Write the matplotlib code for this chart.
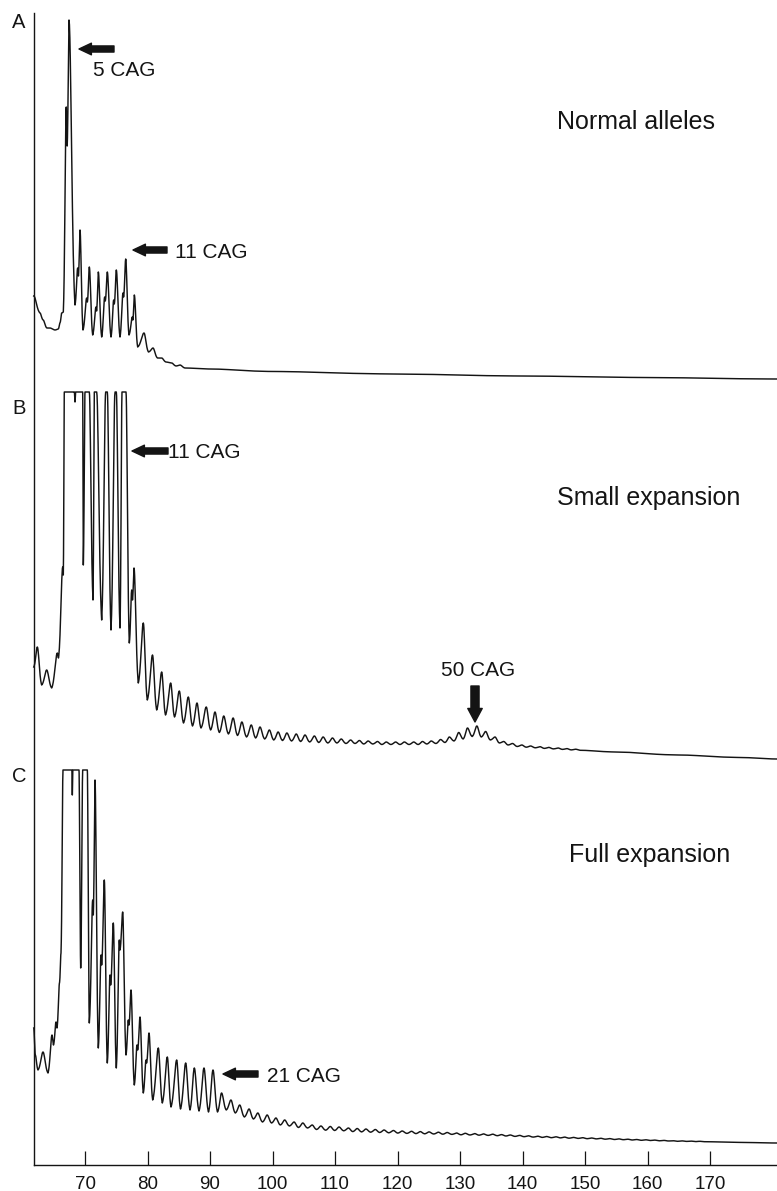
import numpy as np
import matplotlib
matplotlib.use("Agg")
import matplotlib.pyplot as plt
from matplotlib.patches import FancyArrowPatch

plt.rcParams['font.family'] = ['Liberation Sans', 'DejaVu Sans']

# ---------------- data ----------------
tick_values = [70, 80, 90, 100, 110, 120, 130, 140, 150, 160, 170]

# repeat ladder (peak positions of the CAG repeat stutter ladder, tail part)
ladder = [89.4, 90.8, 92.2, 93.7, 95.1, 96.6, 98.0, 99.5, 100.9, 102.3,
          103.8, 105.2, 106.7, 108.1, 109.6, 111.0, 112.5, 113.9, 115.3, 116.8,
          118.2, 119.7, 121.1, 122.6, 124.0, 125.4, 126.9, 128.3, 129.8, 131.2,
          132.7, 134.1, 135.6, 137.0, 138.4, 139.9, 141.3, 142.8, 144.2, 145.7,
          147.1, 148.5, 150.0, 151.4, 152.9, 154.3, 155.8, 157.2, 158.6, 160.1,
          161.5, 163.0, 164.4, 165.9, 167.3, 168.7, 170.2, 171.6, 173.1, 174.5,
          176.0, 177.4, 178.8, 180.3]

# Panel A - normal alleles (extrema of the trace)
a_x = [61.8, 62.8, 63.3, 63.9, 64.4, 65.2, 65.73, 66.0, 66.27, 66.53,
       67.0, 67.15, 67.44, 68.4, 68.83, 68.95, 69.2, 69.68, 70.27, 70.38,
       70.69, 71.23, 71.76, 71.86, 72.13, 72.67, 73.15, 73.25, 73.57, 74.16,
       74.59, 74.69, 75.01, 75.6, 76.08, 76.18, 76.51, 77.04, 77.57, 77.66,
       77.89, 78.43, 79.44, 80.16, 80.88, 81.6, 82.27, 82.96, 83.87, 84.56,
       85.2, 86.0, 90.0, 100.0, 120.0, 140.0, 160.0, 180.7]
a_y = [80, 63, 56, 48, 48, 46, 47, 53, 63, 64,
       269, 230, 356, 71, 108, 100, 146, 46, 78, 74,
       109, 41, 69, 65, 104, 39, 79, 75, 104, 39,
       76, 72, 106, 39, 83, 79, 117, 41, 59, 56,
       81, 29, 43, 24, 28, 18, 18, 14, 13, 10,
       11, 8, 7, 4.5, 2, 0, -1.5, -3]

# Panel B - small expansion (head extrema, then ladder tail)
b_x = [61.8, 62.37, 63.07, 63.87, 64.67, 65.57, 65.76, 66.43, 66.53, 66.69,
       68.3, 68.4, 68.5, 69.63, 69.73, 70.0, 70.69, 71.28, 71.49, 71.87,
       72.67, 73.31, 73.57, 74.16, 74.8, 75.01, 75.6, 75.92, 76.56, 77.09,
       77.47, 77.6, 77.84, 78.53, 79.33, 79.97, 80.8, 81.47, 82.27, 82.88,
       83.71, 84.32, 85.09, 85.76, 86.53, 87.2, 87.92, 88.56]
b_y = [85, 105, 67, 82, 64, 99, 94, 185, 177, 360,
       360, 350, 360, 360, 187, 360, 360, 152, 360, 360,
       132, 360, 360, 122, 360, 360, 124, 360, 360, 109,
       162, 152, 184, 69, 129, 52, 97, 42, 80, 37,
       69, 35, 61, 29, 55, 26, 49, 24]
b_tail_top = [45, 40, 36, 34, 30, 27, 25, 22, 20, 19,
              18, 17, 16, 15, 14, 13, 12, 11.5, 11, 10.5,
              10, 10, 10, 10, 10.5, 11, 12.5, 15, 19.5, 24,
              26, 20.5, 15, 10.5, 8.5, 7, 6, 5.3, 4.6, 4,
              3.4, 2.8]
b_tail_valley = [22, 19.5, 18, 16.5, 15, 14, 13, 12, 11.5, 11,
                 10.5, 10, 9.5, 9, 9, 8.5, 8.5, 8, 8, 7.5,
                 7.5, 7.5, 7.5, 7.5, 8, 8.5, 9.5, 11, 13, 15.5,
                 15, 12, 9, 7, 5.5, 4.8, 4.2, 3.6, 3.1, 2.6,
                 2.1, 1.7]
b_end_x = [155.0, 165.0, 175.0, 180.7]
b_end_y = [0, -3, -5.5, -7]

# Panel C - full expansion
c_x = [61.8, 62.05, 62.48, 63.28, 64.08, 64.72, 64.96, 65.36, 65.52, 65.92,
       66.16, 66.48, 67.9, 67.97, 68.05, 69.04, 69.31, 69.63, 70.37, 70.69,
       71.23, 71.33, 71.6, 72.13, 72.56, 72.67, 73.09, 73.57, 74.0, 74.11,
       74.53, 75.01, 75.49, 75.6, 76.03, 76.56, 76.93, 77.04, 77.36, 77.89,
       78.32, 78.43, 78.8, 79.33, 79.76, 79.86, 80.24, 80.83, 81.73, 82.37,
       83.17, 83.76, 84.67, 85.28, 86.11, 86.8, 87.49, 88.24, 89.04, 89.76,
       90.48, 91.2]
c_y = [115, 88, 73, 91, 70, 108, 98, 121, 115, 160,
       190, 373, 373, 348, 373, 373, 175, 373, 373, 120,
       243, 228, 363, 95, 188, 178, 263, 80, 168, 158,
       220, 75, 203, 193, 231, 88, 123, 118, 153, 58,
       98, 93, 126, 50, 83, 80, 110, 43, 95, 40,
       86, 36, 83, 34, 80, 33, 75, 32, 75, 31,
       73, 31]
c_tail_top = [50, 43, 38, 34, 30, 28, 25, 23, 21, 20,
              18, 17, 16.5, 16, 15, 14.5, 14, 13.5, 13, 12.5,
              12, 11.7, 11.4, 11.1, 10.8, 10.5, 10, 9.7, 9.4, 9.1,
              8.8, 8.4, 8, 7.6, 7.2, 6.8, 6.5, 6.2, 5.9, 5.6,
              5.3, 5, 4.7, 4.4, 4.1, 3.8, 3.5, 3.2, 2.9, 2.6,
              2.3, 2.1, 1.9, 1.7]
c_tail_valley = [33, 30, 26, 24, 21, 20, 18, 17, 15.5, 15,
                 13.5, 12.8, 12.5, 12.2, 11.4, 11.1, 10.8, 10.5, 10.2, 9.9,
                 9.6, 9.4, 9.2, 9.0, 8.8, 8.6, 8.2, 8.0, 7.8, 7.6,
                 7.3, 7.0, 6.6, 6.3, 5.9, 5.6, 5.3, 5.1, 4.8, 4.6,
                 4.3, 4.1, 3.8, 3.5, 3.3, 3.0, 2.7, 2.5, 2.2, 2.0,
                 1.7, 1.6, 1.4, 1.3]
c_end_x = [175.0, 180.7]
c_end_y = [0.6, 0]

panel_letters = ["A", "B", "C"]
panel_titles = ["Normal alleles", "Small expansion", "Full expansion"]

# ---------------- layout helpers ----------------
W, H, DPI = 777, 1191, 100
AX_LEFT, AX_TOP, AX_BOTTOM = 34, 13, 1165


def px_x(p):
    return 70 + (p - 85) / 6.25


def px_y(p):
    return AX_BOTTOM - p


OFF_A, OFF_B, OFF_C = px_y(376), px_y(752), px_y(1143)
C_SHIFT = -0.35


def with_tail(hx, hy, top, valley, j0, shift, ex, ey):
    xs, ys = list(hx), list(hy)
    for i, (t, v) in enumerate(zip(top, valley)):
        j = j0 + i
        xs.append(ladder[j] + shift)
        ys.append(t)
        xs.append((ladder[j] + ladder[j + 1]) / 2 + shift)
        ys.append(v)
    return xs + list(ex), ys + list(ey)


def smooth_trace(xs, ys, k=3.0, m=14):
    f = lambda u: (np.exp(-k * u * u) - np.exp(-k)) / (1 - np.exp(-k))
    X, Y = [], []
    for x0, y0, x1, y1 in zip(xs[:-1], ys[:-1], xs[1:], ys[1:]):
        t = np.linspace(0, 1, m, endpoint=False)
        if y0 == y1:
            y = np.full(m, float(y0))
        elif y0 > y1:
            y = y1 + (y0 - y1) * f(t)
        else:
            y = y0 + (y1 - y0) * f(1 - t)
        X.append(x0 + (x1 - x0) * t)
        Y.append(y)
    X.append([xs[-1]])
    Y.append([ys[-1]])
    return np.concatenate(X), np.concatenate(Y)


fig = plt.figure(figsize=(W / DPI, H / DPI), dpi=DPI)
ax = fig.add_axes([AX_LEFT / W, (H - AX_BOTTOM) / H, (W - AX_LEFT) / W, (AX_BOTTOM - AX_TOP) / H])
ax.set_xlim(px_x(AX_LEFT), px_x(W))
ax.set_ylim(0, AX_BOTTOM - AX_TOP)

ink = "#141414"
bx, by = with_tail(b_x, b_y, b_tail_top, b_tail_valley, 0, 0.0, b_end_x, b_end_y)
cx, cy = with_tail(c_x, c_y, c_tail_top, c_tail_valley, 2, C_SHIFT, c_end_x, c_end_y)
for xs, ys, off in [(a_x, a_y, OFF_A), (bx, by, OFF_B), (cx, cy, OFF_C)]:
    X, Y = smooth_trace(xs, ys)
    ax.plot(X, np.asarray(Y) + off, color=ink, lw=1.05, solid_joinstyle="round", clip_on=False)

# axes styling
for s in ["top", "right"]:
    ax.spines[s].set_visible(False)
for s in ["left", "bottom"]:
    ax.spines[s].set_linewidth(1.0)
    ax.spines[s].set_color(ink)
ax.set_yticks([])
ax.set_xticks(tick_values)
ax.set_xticklabels([str(v) for v in tick_values])
ax.tick_params(axis="x", direction="in", length=10, width=0.9, color=ink,
               labelsize=13.5, pad=8, labelcolor=ink)

# panel letters
for lab, py in zip(panel_letters, [23, 408, 777]):
    ax.text(px_x(19), px_y(py), lab, fontsize=14.5, ha="center", va="center", color=ink, clip_on=False)

# titles
for title, (pxl, py) in zip(panel_titles, [(557, 122), (557, 498), (569, 855)]):
    ax.text(px_x(pxl), px_y(py), title, fontsize=18, ha="left", va="center", color=ink)


def harrow(x_tail, x_head, y, scale=10.5):
    ar = FancyArrowPatch((px_x(x_tail), px_y(y)), (px_x(x_head), px_y(y)),
                         arrowstyle="simple,head_length=0.85,head_width=0.8,tail_width=0.42",
                         mutation_scale=scale, color=ink, shrinkA=0, shrinkB=0, clip_on=False)
    ax.add_patch(ar)


LAB = 15
harrow(114, 79, 49)
ax.text(px_x(93), px_y(70), "5 CAG", fontsize=LAB, ha="left", va="center", color=ink)
harrow(167, 133, 250)
ax.text(px_x(175), px_y(253), "11 CAG", fontsize=LAB, ha="left", va="center", color=ink)
harrow(168, 132, 451)
ax.text(px_x(168), px_y(453), "11 CAG", fontsize=LAB, ha="left", va="center", color=ink)
harrow(258, 223, 1074)
ax.text(px_x(267), px_y(1077), "21 CAG", fontsize=LAB, ha="left", va="center", color=ink)

varr = FancyArrowPatch((px_x(475), px_y(686)), (px_x(475), px_y(722)),
                       arrowstyle="simple,head_length=0.75,head_width=0.8,tail_width=0.45",
                       mutation_scale=13, color=ink, shrinkA=0, shrinkB=0)
ax.add_patch(varr)
ax.text(px_x(478), px_y(670), "50 CAG", fontsize=LAB, ha="center", va="center", color=ink)

fig.savefig("out.png", dpi=DPI, facecolor="white")
